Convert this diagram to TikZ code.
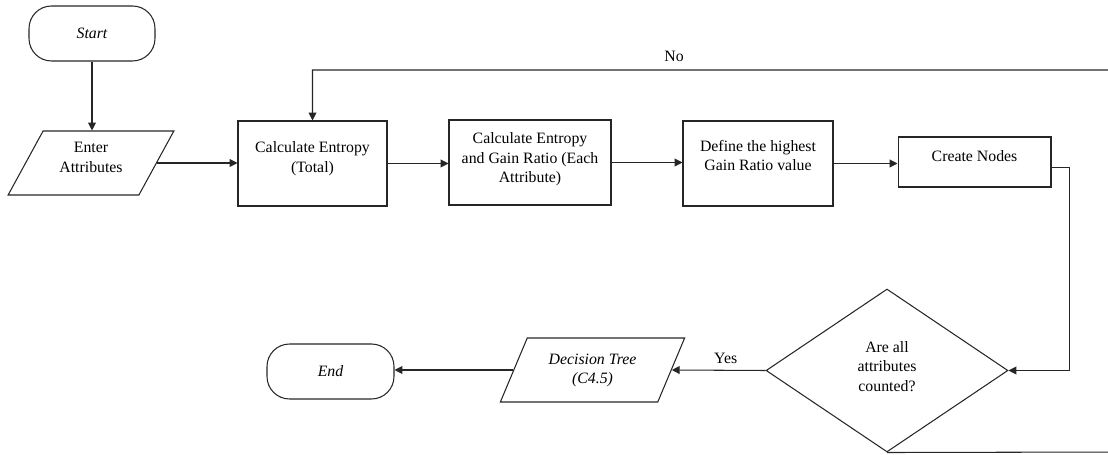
\documentclass[tikz,border=0pt]{standalone}
\usepackage{fontspec}
\setmainfont{Liberation Serif}
\usetikzlibrary{shapes.geometric,arrows.meta}
\newcommand\boxtext[2]{\smash{\raisebox{#1}{\begin{tabular}{@{}c@{}}#2\end{tabular}}}}
\newcommand\iotext[3]{\raisebox{0pt}[#1][#2]{\begin{tabular}{@{}c@{}}#3\end{tabular}}}
\begin{document}
\begin{tikzpicture}[x=0.02cm,y=-0.02cm,
  font=\fontsize{9}{11}\selectfont,
  line/.style={draw=black!85, line width=0.6pt},
  arr/.style={line, -{Triangle[length=4.5pt,width=4.5pt]}},
  term/.style={line, rectangle, rounded corners=0.45cm, minimum width=#1, minimum height=1.1cm, font=\fontsize{9}{11}\selectfont\itshape},
  proc/.style={line, rectangle, inner sep=1pt},
  io/.style={line, trapezium, trapezium stretches=true, inner sep=1pt},
  decision/.style={line, diamond, inner sep=0pt}]
\useasboundingbox (0,0) rectangle (1108,455);
\clip (0,0) rectangle (1108,455);

\node[term=2.52cm] (start) at (92,33.5) {Start};
\node[io, trapezium left angle=60, trapezium right angle=120, minimum width=3.32cm, minimum height=1.28cm] (enter) at (91,163)
  {\iotext{10.75pt}{11.25pt}{Enter\\Attributes}};
\node[proc, minimum width=2.98cm, minimum height=1.7cm] (calc1) at (312.5,163.5)
  {\boxtext{0.6pt}{Calculate Entropy\\(Total)}};
\node[proc, minimum width=3.24cm, minimum height=1.7cm] (calc2) at (530,162.5)
  {\boxtext{-0.4pt}{Calculate Entropy\\and Gain Ratio (Each\\Attribute)}};
\node[proc, minimum width=3.0cm, minimum height=1.7cm] (define) at (758,163.5)
  {\boxtext{1.2pt}{Define the highest\\Gain Ratio value}};
\node[proc, minimum width=3.06cm, minimum height=1.0cm] (create) at (974.5,162)
  {\boxtext{0pt}{Create Nodes}};
\node[decision, minimum width=4.84cm, minimum height=3.26cm] (dec) at (887,370.5)
  {\boxtext{-0.8pt}{Are all\\attributes\\counted?}};
\node[io, trapezium left angle=66, trapezium right angle=114, minimum width=3.7cm, minimum height=1.28cm, font=\fontsize{9}{11}\selectfont\itshape] (dtree) at (592.5,370)
  {\begin{tabular}{@{}c@{}}Decision Tree\\(C4.5)\end{tabular}};
\node[term=2.54cm] (end) at (330.5,371.5) {End};

\draw[arr] (start.south) -- (start.south |- enter.north);
\draw[arr] (enter.east) -- (enter.east -| calc1.west);
\draw[arr] (calc1.east) -- (calc1.east -| calc2.west);
\draw[arr] (calc2.east) -- (calc2.east -| define.west);
\draw[arr] (define.east) -- (define.east -| create.west);
\draw[arr] ([yshift=-3pt]create.east) -- ++(18,0) |- (dec.east);
\draw[arr] (dec.west) -- (dtree.east) node[midway, above=0pt, xshift=4pt] {Yes};
\draw[arr] (dtree.west) -- (dtree.west -| end.east);
\coordinate (loopbr) at (1125,452);
\coordinate (looptr) at (1125,70);
\draw[arr] (dec.south) -- (loopbr) -- (looptr) -| (calc1.north);
\node (nolabel) at (674,56) {No};
\end{tikzpicture}
\end{document}
